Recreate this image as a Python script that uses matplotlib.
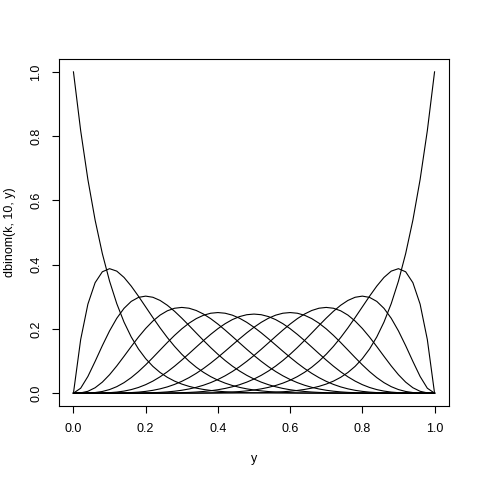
import math
import numpy as np
import matplotlib
matplotlib.use("Agg")
import matplotlib.pyplot as plt

plt.rcParams['font.family'] = ['Liberation Sans', 'DejaVu Sans']

# data: binomial probabilities, n = 10, k = 0..10, over a grid of y
n = 10
k_values = list(range(0, 11))
y_grid = np.round(np.arange(0, 1.0001, 0.02), 4)

fig = plt.figure(figsize=(4.8, 4.8), dpi=100)
ax = fig.add_axes([59 / 480, 1 - 406 / 480, 390 / 480, 347 / 480])

for k in k_values:
    probs = [math.comb(n, k) * y ** k * (1 - y) ** (n - k) for y in y_grid]
    ax.plot(y_grid, probs, color='black', lw=0.8)

ax.set_xlim(-0.04, 1.04)
ax.set_ylim(-0.04, 1.04)
ticks = [0.0, 0.2, 0.4, 0.6, 0.8, 1.0]
ax.set_xticks(ticks)
ax.set_yticks(ticks)
ax.set_xticklabels([f"{t:.1f}" for t in ticks], fontsize=9)
ax.set_yticklabels([f"{t:.1f}" for t in ticks], fontsize=9, rotation=90, va='center')
ax.tick_params(length=5, width=0.8, pad=7, colors='black')
for s in ax.spines.values():
    s.set_linewidth(0.8)

ax.set_xlabel("y", fontsize=9)
ax.set_ylabel("dbinom(k, 10, y)", fontsize=9)
ax.xaxis.set_label_coords(0.5, -0.153)
ax.yaxis.set_label_coords(-0.126, 0.5)
ax.xaxis.label.set_va('center')
ax.yaxis.label.set_va('center')

fig.savefig("out.png", dpi=100)
